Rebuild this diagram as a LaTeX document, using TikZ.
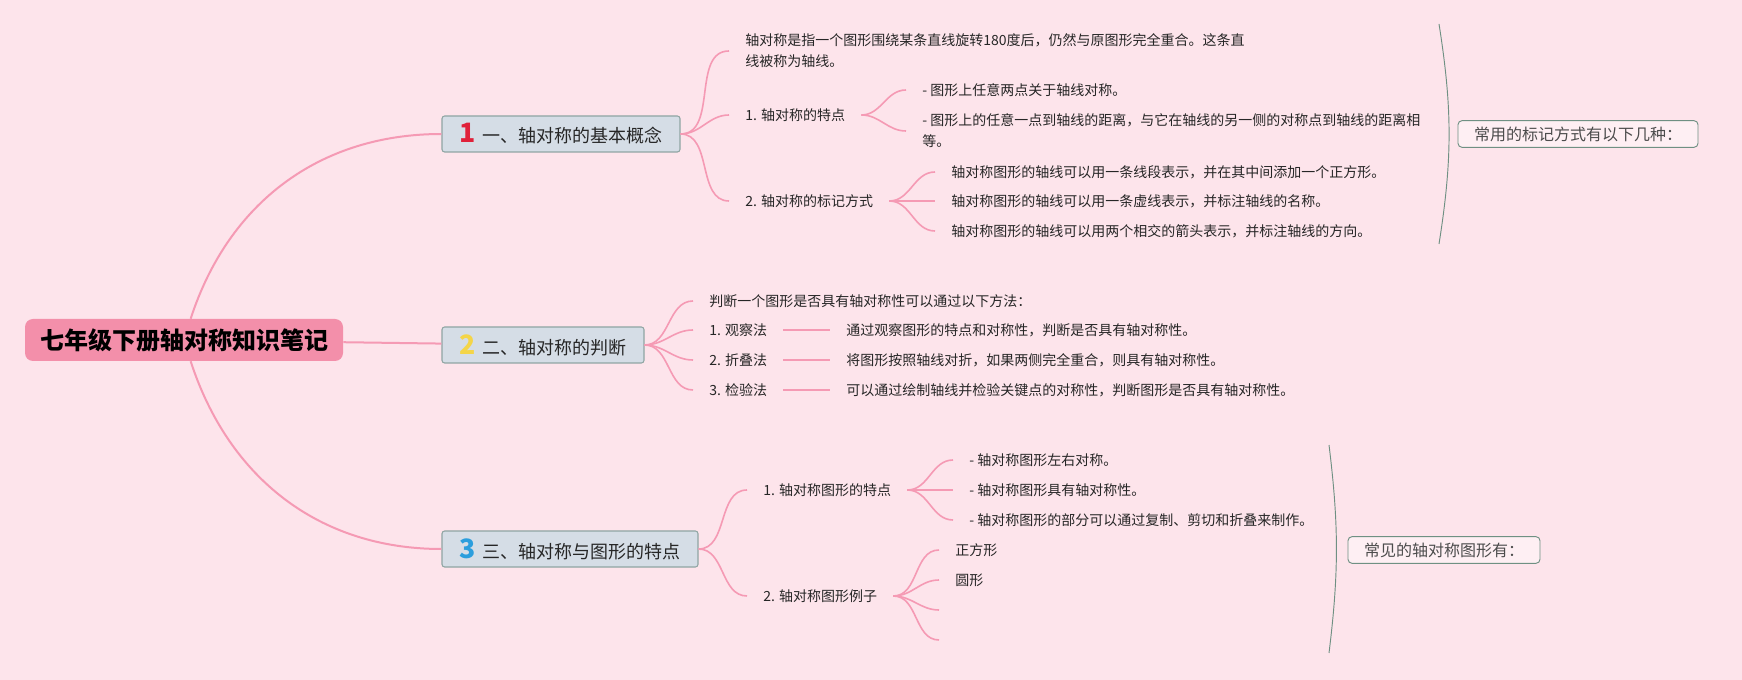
\documentclass[tikz,border=0pt]{standalone}
\usepackage{fontspec}
\setmainfont{Noto Sans CJK SC}
\usepackage{xcolor}
\usepackage{tikz}
\usetikzlibrary{positioning}

\definecolor{bgpink}{HTML}{FDE4EB}
\definecolor{linkpink}{HTML}{F59AB4}
\definecolor{rootpink}{HTML}{F38FAA}
\definecolor{branchfill}{HTML}{D5DDE6}
\definecolor{branchline}{HTML}{8FA5A3}
\definecolor{sumline}{HTML}{6F9083}
\definecolor{numred}{HTML}{E0213A}
\definecolor{numyellow}{HTML}{F4D548}
\definecolor{numblue}{HTML}{2B9EDD}

\newcommand\branchnum[2]{{\fontsize{20pt}{20pt}\selectfont\bfseries\color{#1}#2}\hspace{5pt}}

\begin{document}
\begin{tikzpicture}[
  x=0.75pt, y=-0.75pt,
  node distance=35pt,
  root/.style={rectangle,fill=rootpink,rounded corners=6pt,minimum width=238.5pt,minimum height=31.5pt,font=\fontsize{18pt}{20pt}\selectfont\bfseries},
  branch/.style={rectangle,draw=branchline,line width=0.8pt,fill=branchfill,rounded corners=2pt,minimum height=27pt,font=\fontsize{13.5pt}{16pt}\selectfont,text=black!85},
  leaf/.style={anchor=west,inner xsep=12pt,inner ysep=1pt,align=left,font=\fontsize{10.5pt}{15.75pt}\selectfont,text=black!85},
  summary/.style={rectangle,draw=sumline,line width=0.7pt,fill=white!40!bgpink,rounded corners=3pt,minimum height=20pt,font=\fontsize{12pt}{14pt}\selectfont,text=black!70},
  link/.style={draw=linkpink,line width=1.2pt},
  mainlink/.style={draw=linkpink,line width=1.5pt},
  brace/.style={draw=sumline,line width=0.7pt}
]
\fill[bgpink] (0,0) rectangle (1742,680);
\useasboundingbox (0,0) rectangle (1742,680);

\node[root] (root) at (184,340) {七年级下册轴对称知识笔记};

\node[branch,minimum width=178.5pt] (basic) at (561,134) {\branchnum{numred}{1}一、轴对称的基本概念};
\node[branch,minimum width=151.5pt] (judge) at (543,345) {\branchnum{numyellow}{2}二、轴对称的判断};
\node[branch,minimum width=192pt] (shape) at (570,549) {\branchnum{numblue}{3}三、轴对称与图形的特点};

\node[leaf] (defn) at (729,51) {轴对称是指一个图形围绕某条直线旋转180度后，仍然与原图形完全重合。这条直\\线被称为轴线。};
\node[leaf] (feat) at (729,115) {1. 轴对称的特点};
\node[leaf] (featA) at (906,90) {- 图形上任意两点关于轴线对称。};
\node[leaf] (featB) at (906,131) {- 图形上的任意一点到轴线的距离，与它在轴线的另一侧的对称点到轴线的距离相\\等。};
\node[leaf] (mark) at (729,201) {2. 轴对称的标记方式};
\node[leaf] (markA) at (935,172) {轴对称图形的轴线可以用一条线段表示，并在其中间添加一个正方形。};
\node[leaf] (markB) at (935,201) {轴对称图形的轴线可以用一条虚线表示，并标注轴线的名称。};
\node[leaf] (markC) at (935,231) {轴对称图形的轴线可以用两个相交的箭头表示，并标注轴线的方向。};

\coordinate (markbraceT) at (1439,24);
\coordinate (markbraceB) at (1439,244);
\node[summary,minimum width=180pt] (markhead) at (1578,134) {常用的标记方式有以下几种：};

\node[leaf] (judgeintro) at (693,301) {判断一个图形是否具有轴对称性可以通过以下方法：};
\node[leaf] (observe) at (693,330) {1. 观察法};
\node[leaf,right=of observe] (observetxt) {通过观察图形的特点和对称性，判断是否具有轴对称性。};
\node[leaf] (fold) at (693,360) {2. 折叠法};
\node[leaf,right=of fold] (foldtxt) {将图形按照轴线对折，如果两侧完全重合，则具有轴对称性。};
\node[leaf] (check) at (693,390) {3. 检验法};
\node[leaf,right=of check] (checktxt) {可以通过绘制轴线并检验关键点的对称性，判断图形是否具有轴对称性。};

\node[leaf] (shapefeat) at (747,490) {1. 轴对称图形的特点};
\node[leaf] (shapefeatA) at (953,460) {- 轴对称图形左右对称。};
\node[leaf] (shapefeatB) at (953,490) {- 轴对称图形具有轴对称性。};
\node[leaf] (shapefeatC) at (953,520) {- 轴对称图形的部分可以通过复制、剪切和折叠来制作。};
\node[leaf] (example) at (747,596) {2. 轴对称图形例子};
\node[leaf] (square) at (939,550) {正方形};
\node[leaf] (circle) at (939,580) {圆形};
\coordinate (exC) at (939,610);
\coordinate (exD) at (939,640);

\coordinate (shapebraceT) at (1329,445);
\coordinate (shapebraceB) at (1329,653);
\node[summary,minimum width=144pt] (shapehead) at (1444,550) {常见的轴对称图形有：};

\draw[mainlink] ([xshift=5pt]root.north) to[out=72,in=180] (basic.west);
\draw[mainlink] (root) -- (judge);
\draw[mainlink] ([xshift=5pt]root.south) to[out=-72,in=180] (shape.west);

\draw[link] (basic.east) to[out=0,in=180] (defn.west);
\draw[link] (basic.east) to[out=0,in=180] (feat.west);
\draw[link] (basic.east) to[out=0,in=180] (mark.west);
\draw[link] (feat.east) to[out=0,in=180] (featA.west);
\draw[link] (feat.east) to[out=0,in=180] (featB.west);
\draw[link] (mark.east) to[out=0,in=180] (markA.west);
\draw[link] (mark.east) to[out=0,in=180] (markB.west);
\draw[link] (mark.east) to[out=0,in=180] (markC.west);
\draw[brace] (markbraceT) to[bend left=9] (markbraceB);

\draw[link] (judge.east) to[out=0,in=180] (judgeintro.west);
\draw[link] (judge.east) to[out=0,in=180] (observe.west);
\draw[link] (judge.east) to[out=0,in=180] (fold.west);
\draw[link] (judge.east) to[out=0,in=180] (check.west);
\draw[link] (observe) -- (observetxt);
\draw[link] (fold) -- (foldtxt);
\draw[link] (check) -- (checktxt);

\draw[link] (shape.east) to[out=0,in=180] (shapefeat.west);
\draw[link] (shape.east) to[out=0,in=180] (example.west);
\draw[link] (shapefeat.east) to[out=0,in=180] (shapefeatA.west);
\draw[link] (shapefeat.east) to[out=0,in=180] (shapefeatB.west);
\draw[link] (shapefeat.east) to[out=0,in=180] (shapefeatC.west);
\draw[link] (example.east) to[out=0,in=180] (square.west);
\draw[link] (example.east) to[out=0,in=180] (circle.west);
\draw[link] (example.east) to[out=0,in=180] (exC);
\draw[link] (example.east) to[out=0,in=180] (exD);
\draw[brace] (shapebraceT) to[bend left=7] (shapebraceB);
\end{tikzpicture}
\end{document}
